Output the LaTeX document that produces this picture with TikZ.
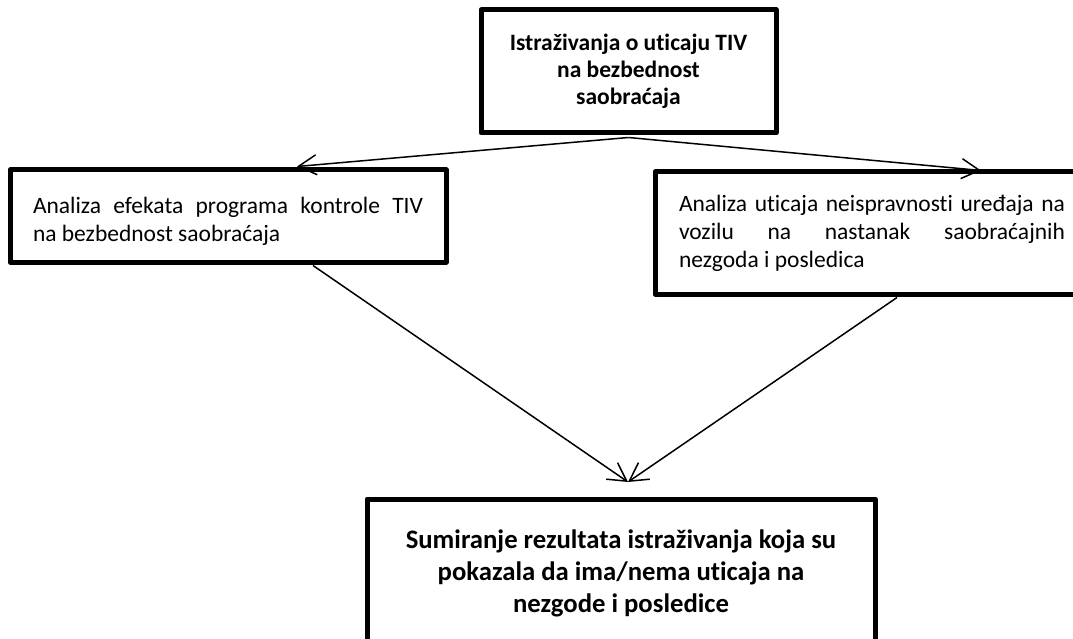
\documentclass[tikz,border=0pt]{standalone}
\usepackage{fontspec}
\setmainfont{Carlito}[Ligatures=NoCommon]
\usepackage{tikz}
\usetikzlibrary{arrows.meta, calc}
\hyphenpenalty=10000
\exhyphenpenalty=10000
\tolerance=10000

\tikzset{
  box/.style={rectangle, draw, line width=5pt, inner sep=0pt, line join=round},
  txt/.style={font=\fontsize{23.5}{28}\selectfont, align=justify},
  btxt/.style={font=\fontsize{23.5}{27}\selectfont\bfseries, align=center},
  arr/.style={line width=1.5pt, -{Straight Barb[length=18pt, width=20pt, line width=1.5pt]}}
}

\begin{document}
\begin{tikzpicture}[x=1pt, y=-1pt]
\useasboundingbox (0,0) rectangle (1073,639);
\clip (0,0) rectangle (1073,639);

% Boxes
\node[box, btxt, minimum width=295pt, minimum height=123pt] (b0) at (628.5,71.5)
  {Istraživanja o uticaju TIV\\ na bezbednost\\ saobraćaja};
\node[box, txt, minimum width=436pt, minimum height=92pt, text width=390pt] (b1) at (228,216)
  {\rule{0pt}{28pt}Analiza efekata programa kontrole TIV\linebreak na bezbednost saobraćaja};
\node[box, txt, minimum width=434pt, minimum height=122pt, text width=386pt] (b2) at (872,233)
  {Analiza uticaja neispravnosti uređaja na\linebreak vozilu na nastanak saobraćajnih\linebreak nezgoda i posledica};
\node[box, btxt, font=\fontsize{26.7}{32}\selectfont\bfseries, minimum width=508pt, minimum height=149pt] (b3) at (621,573.5)
  {Sumiranje rezultata istraživanja koja su\\ pokazala da ima/nema uticaja na\\ nezgode i posledice};

% Point where both lower arrows meet
\coordinate (m) at (628,482);

% Arrows
\draw[arr] ([yshift=-2pt]b0.south) -- ([xshift=69pt, yshift=1pt]b1.north);
\draw[arr] ([yshift=-2pt]b0.south) -- ([xshift=109pt, yshift=-1pt]b2.north);
\draw[arr] ([xshift=85pt, yshift=-1pt]b1.south) -- (m);
\draw[arr] ([xshift=25pt, yshift=-1pt]b2.south) -- (m);

\end{tikzpicture}
\end{document}
